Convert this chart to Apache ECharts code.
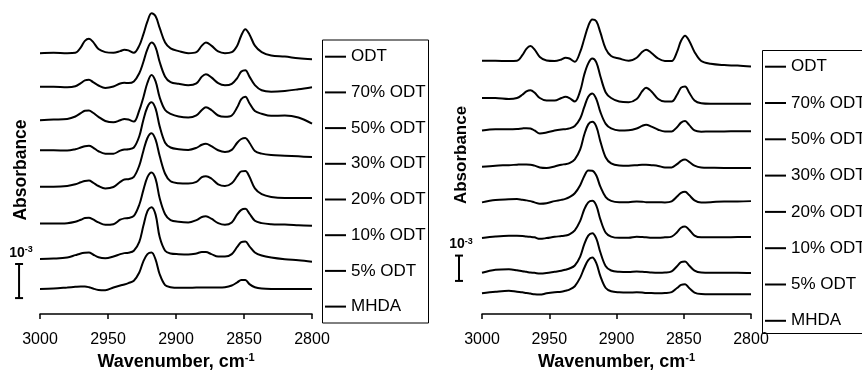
<!DOCTYPE html>
<html>
<head>
<meta charset="utf-8">
<title>IR spectra ODT / MHDA</title>
<script src="https://cdn.jsdelivr.net/npm/echarts@6/dist/echarts.min.js"></script>
<style>
  html, body { margin: 0; padding: 0; background: #fff; }
  #main { width: 862px; height: 376px; }
</style>
</head>
<body>
<div id="main"></div>
<script>
// wavenumber sampling points (cm-1), shared by every trace
var wavenumbers = [3000, 2990, 2980, 2974, 2970, 2967, 2964, 2961, 2957, 2952,
  2946, 2941, 2938, 2935, 2931, 2927, 2924, 2921, 2918, 2915,
  2912, 2908, 2904, 2898, 2891, 2885, 2881, 2878, 2874, 2869,
  2864, 2859, 2855, 2852, 2849, 2846, 2842, 2837, 2830, 2820,
  2810, 2800];

var sampleNames = ['ODT', '70% ODT', '50% ODT', '30% ODT', '20% ODT', '10% ODT', '5% ODT', 'MHDA'];
var xTicks = [3000, 2950, 2900, 2850, 2800];

// left panel, absorbance x10^-3 relative to each trace's baseline
var leftODT   = [0, 0.01, 0, 0.01, 0.17, 0.36, 0.42, 0.33, 0.12, 0.03, 0.01, 0.06, 0.10, 0.08, 0.01, 0.22, 0.55, 0.93, 1.17, 1.08, 0.74, 0.31, 0.14, 0.06, 0, 0.03, 0.22, 0.31, 0.22, 0.05, 0, 0.03, 0.22, 0.52, 0.70, 0.55, 0.22, 0.03, -0.07, -0.10, -0.15, -0.18];
var leftODT70 = [0, 0, -0.01, 0.02, 0.11, 0.19, 0.21, 0.14, 0.04, -0.03, 0.01, 0.10, 0.12, 0.11, 0.16, 0.40, 0.73, 1.11, 1.30, 1.16, 0.73, 0.30, 0.14, 0.09, 0.05, 0.10, 0.30, 0.37, 0.28, 0.11, 0.05, 0.09, 0.26, 0.45, 0.49, 0.30, 0.05, -0.10, -0.14, -0.12, -0.07, -0.01];
var leftODT50 = [0, 0.02, 0.04, 0.11, 0.21, 0.28, 0.29, 0.22, 0.10, -0.02, -0.06, 0, 0.04, 0.02, -0.04, 0.29, 0.67, 1.10, 1.33, 1.14, 0.67, 0.30, 0.19, 0.11, 0.08, 0.14, 0.30, 0.38, 0.30, 0.14, 0.10, 0.14, 0.38, 0.62, 0.69, 0.50, 0.27, 0.19, 0.13, 0.14, 0.08, -0.10];
var leftODT30 = [0, 0, -0.01, 0.03, 0.08, 0.12, 0.13, 0.08, -0.03, -0.10, -0.10, -0.01, 0.02, 0.03, 0.08, 0.41, 0.89, 1.27, 1.41, 1.22, 0.70, 0.22, 0.08, 0.03, 0.01, 0.07, 0.16, 0.19, 0.12, 0, -0.05, 0.01, 0.22, 0.33, 0.36, 0.22, -0.02, -0.10, -0.14, -0.16, -0.18, -0.20];
var leftODT20 = [0, 0, 0.02, 0.07, 0.13, 0.17, 0.18, 0.12, 0.02, -0.05, -0.01, 0.14, 0.21, 0.22, 0.29, 0.62, 1.05, 1.43, 1.57, 1.38, 0.90, 0.38, 0.16, 0.10, 0.09, 0.14, 0.28, 0.31, 0.24, 0.07, 0.02, 0.10, 0.31, 0.45, 0.46, 0.29, -0.05, -0.22, -0.30, -0.33, -0.33, -0.33];
var leftODT10 = [0, 0, 0.01, 0.05, 0.11, 0.16, 0.17, 0.12, 0.03, -0.04, -0.02, 0.11, 0.15, 0.16, 0.22, 0.55, 0.98, 1.36, 1.50, 1.31, 0.74, 0.27, 0.10, 0.05, 0.03, 0.10, 0.19, 0.21, 0.14, 0.01, -0.04, 0.03, 0.27, 0.40, 0.43, 0.29, 0.08, 0.01, -0.02, -0.03, -0.05, -0.07];
var leftODT5  = [0, 0.01, 0.04, 0.11, 0.16, 0.18, 0.19, 0.13, 0.05, 0.02, 0.07, 0.14, 0.17, 0.18, 0.24, 0.50, 0.97, 1.40, 1.52, 1.30, 0.64, 0.24, 0.16, 0.14, 0.13, 0.16, 0.20, 0.20, 0.14, 0.07, 0.07, 0.14, 0.35, 0.49, 0.51, 0.37, 0.19, 0.10, 0.04, -0.01, -0.04, -0.08];
var leftMHDA  = [0, 0.01, 0.04, 0.06, 0.07, 0.07, 0.05, 0.01, -0.03, -0.04, 0.04, 0.10, 0.13, 0.17, 0.24, 0.48, 0.81, 1.02, 1.07, 0.86, 0.43, 0.11, 0.05, 0.03, 0.03, 0.04, 0.04, 0.04, 0.04, 0.04, 0.05, 0.10, 0.19, 0.26, 0.26, 0.14, 0.05, 0.01, 0, 0, 0, 0];
var leftOffsets = [7.73, 6.74, 5.76, 4.88, 3.81, 2.73, 1.69, 0.81];

// right panel, absorbance x10^-3 relative to each trace's baseline
var rightODT   = [0, 0, -0.01, 0, 0.22, 0.47, 0.58, 0.45, 0.15, 0.01, -0.01, 0.05, 0.12, 0.09, -0.04, 0.35, 0.86, 1.37, 1.63, 1.56, 1.12, 0.47, 0.19, 0.09, 0, 0.12, 0.35, 0.44, 0.31, 0.09, -0.01, -0.01, 0.35, 0.79, 0.99, 0.79, 0.35, -0.01, -0.12, -0.17, -0.19, -0.23];
var rightODT70 = [0, 0, -0.04, 0, 0.13, 0.26, 0.31, 0.22, 0, -0.10, -0.10, 0, 0.05, 0, -0.14, 0.28, 0.92, 1.37, 1.56, 1.41, 0.86, 0.22, 0, -0.14, -0.17, -0.04, 0.26, 0.41, 0.26, -0.04, -0.14, -0.14, 0.13, 0.41, 0.46, 0.22, -0.10, -0.21, -0.23, -0.23, -0.23, -0.23];
var rightODT50 = [0, 0.05, 0.05, 0.06, 0.08, 0.09, 0.08, 0, -0.12, -0.08, 0, 0.04, 0.05, 0.08, 0.18, 0.47, 0.92, 1.33, 1.46, 1.24, 0.73, 0.26, 0.08, 0, 0.01, 0.08, 0.18, 0.23, 0.15, 0.03, -0.04, -0.04, 0.13, 0.31, 0.37, 0.22, 0, -0.05, -0.04, -0.04, -0.03, -0.03];
var rightODT30 = [0, 0.04, 0.06, 0.08, 0.09, 0.09, 0.08, 0.04, -0.03, -0.05, 0.01, 0.08, 0.10, 0.14, 0.29, 0.68, 1.26, 1.67, 1.77, 1.58, 1.00, 0.36, 0.13, 0.05, 0.04, 0.06, 0.08, 0.08, 0.06, 0.03, -0.03, -0.03, 0.10, 0.23, 0.28, 0.19, 0.04, -0.03, -0.04, -0.05, -0.05, -0.05];
var rightODT20 = [0, 0.09, 0.12, 0.13, 0.10, 0.08, 0.05, 0, -0.05, -0.03, 0.05, 0.10, 0.14, 0.21, 0.36, 0.68, 1.03, 1.26, 1.25, 1.06, 0.62, 0.21, 0.06, 0.01, 0.01, 0.04, 0.03, 0.01, 0.01, 0.01, 0, 0.04, 0.23, 0.38, 0.42, 0.29, 0.08, 0, 0.01, 0.04, 0.04, 0.05];
var rightODT10 = [0, 0.06, 0.09, 0.09, 0.08, 0.06, 0.05, 0.03, -0.03, 0, 0.05, 0.08, 0.10, 0.15, 0.31, 0.68, 1.13, 1.41, 1.47, 1.28, 0.74, 0.21, 0.06, 0.01, 0.01, 0.05, 0.04, 0.03, 0.01, 0.01, 0.03, 0.06, 0.23, 0.41, 0.46, 0.33, 0.10, 0.03, 0.03, 0.03, 0.04, 0.04];
var rightODT5  = [0, 0.12, 0.14, 0.10, 0.06, 0.04, 0.01, 0, -0.03, -0.01, 0.04, 0.08, 0.12, 0.17, 0.29, 0.64, 1.12, 1.47, 1.56, 1.35, 0.81, 0.26, 0.09, 0.04, 0.03, 0.05, 0.04, 0.03, 0.01, 0, 0.01, 0.06, 0.26, 0.42, 0.45, 0.29, 0.09, 0.01, 0, 0, 0, -0.01];
var rightMHDA  = [0, 0.06, 0.10, 0.06, 0.04, 0.01, -0.01, -0.04, -0.05, 0, 0.04, 0.06, 0.10, 0.15, 0.28, 0.62, 1.00, 1.31, 1.41, 1.19, 0.68, 0.21, 0.08, 0.04, 0.03, 0.04, 0.03, 0.01, 0.01, 0, 0.01, 0.05, 0.21, 0.33, 0.36, 0.21, 0.03, -0.03, -0.04, -0.04, -0.04, -0.04];
var rightOffsets = [10.10, 8.63, 7.35, 5.92, 4.51, 3.10, 1.73, 0.92];

// scale bar: [wavenumber position, bottom, top] in absorbance x10^-3
var leftScaleBar = [3015.4, 0.54, 1.54];
var rightScaleBar = [3017.1, 1.41, 2.41];

var leftSpectra = [leftODT, leftODT70, leftODT50, leftODT30, leftODT20, leftODT10, leftODT5, leftMHDA];
var rightSpectra = [rightODT, rightODT70, rightODT50, rightODT30, rightODT20, rightODT10, rightODT5, rightMHDA];

var FONT = 'Arial, "Liberation Sans", sans-serif';

function buildSeries(spectra, offsets, axisIndex) {
  var list = [];
  for (var i = 0; i < spectra.length; i++) {
    var pts = [];
    for (var k = 0; k < wavenumbers.length; k++)
      pts.push([wavenumbers[k], offsets[i] + spectra[i][k]]);
    list.push({
      name: sampleNames[i],
      type: 'line',
      xAxisIndex: axisIndex,
      yAxisIndex: axisIndex,
      data: pts,
      symbol: 'none',
      smooth: 0.35,
      lineStyle: { color: '#000', width: 2 },
      itemStyle: { color: '#000' },
      silent: true
    });
  }
  return list;
}

// I-shaped 10^-3 bar, drawn in data coordinates
function renderScaleBar(params, api) {
  var x = api.value(0);
  var lo = api.coord([x, api.value(1)]);
  var hi = api.coord([x, api.value(2)]);
  var st = { stroke: '#000', lineWidth: 2 };
  return {
    type: 'group',
    children: [
      { type: 'line', shape: { x1: lo[0], y1: lo[1], x2: hi[0], y2: hi[1] }, style: st },
      { type: 'line', shape: { x1: lo[0] - 4, y1: lo[1], x2: lo[0] + 4, y2: lo[1] }, style: st },
      { type: 'line', shape: { x1: hi[0] - 4, y1: hi[1], x2: hi[0] + 4, y2: hi[1] }, style: st },
      {
        type: 'text', x: hi[0] + 2, y: hi[1] - 11,
        style: {
          text: '{b|10}{s|-3}',
          align: 'center', verticalAlign: 'middle',
          rich: {
            b: { fontSize: 14, fontWeight: 'bold', fontFamily: FONT, fill: '#000', lineHeight: 16 },
            s: { fontSize: 9, fontWeight: 'bold', fontFamily: FONT, fill: '#000', verticalAlign: 'top', lineHeight: 9 }
          }
        }
      }
    ]
  };
}

function makeXAxis(gridIndex) {
  return {
    gridIndex: gridIndex,
    type: 'value',
    min: 2800, max: 3000, interval: 50,
    inverse: true,
    name: '{a|Wavenumber, cm}{s|-1}',
    nameLocation: 'middle',
    nameGap: 32,
    nameTextStyle: {
      rich: {
        a: { fontSize: 18, fontWeight: 'bold', fontFamily: FONT, color: '#000', lineHeight: 20 },
        s: { fontSize: 11, fontWeight: 'bold', fontFamily: FONT, color: '#000', verticalAlign: 'top', lineHeight: 11 }
      }
    },
    axisLine: { lineStyle: { color: '#000', width: 1.5 } },
    axisTick: { length: 5, lineStyle: { color: '#000', width: 1.5 } },
    axisLabel: {
      margin: 17, fontSize: 16, color: '#000', fontFamily: FONT,
      formatter: function (v) { return String(v); }
    },
    splitLine: { show: false }
  };
}

function makeLegend(left, top, gap) {
  return {
    orient: 'vertical',
    left: left, top: top,
    padding: 0,
    icon: 'rect',
    itemWidth: 21, itemHeight: 2,
    itemGap: gap,
    selectedMode: false,
    data: sampleNames,
    itemStyle: { color: '#000' },
    textStyle: { fontSize: 17, color: '#000', fontFamily: FONT, lineHeight: 18 }
  };
}

var myChart = echarts.init(document.getElementById('main'), null, { renderer: 'canvas' });

var option = {
  animation: false,
  backgroundColor: '#fff',
  grid: [
    { left: 40, top: 0, width: 272, height: 322.5 },
    { left: 482, top: 0, width: 269, height: 322.5 }
  ],
  xAxis: [makeXAxis(0), makeXAxis(1)],
  yAxis: [
    { gridIndex: 0, type: 'value', min: 0.07, max: 9.29, show: false },
    { gridIndex: 1, type: 'value', min: 0.1, max: 12.5, show: false }
  ],
  legend: [makeLegend(325, 47.7, 17.7), makeLegend(765, 57.7, 18.3)],
  graphic: [
    { type: 'rect', shape: { x: 322.5, y: 40, width: 106, height: 283 }, style: { fill: 'none', stroke: '#000', lineWidth: 1 } },
    { type: 'rect', shape: { x: 762.5, y: 50.5, width: 150, height: 283 }, style: { fill: 'none', stroke: '#000', lineWidth: 1 } },
    { type: 'text', x: 21, y: 170, rotation: Math.PI / 2,
      style: { text: 'Absorbance', font: 'bold 17.5px ' + FONT, fill: '#000', align: 'center', verticalAlign: 'middle' } },
    { type: 'text', x: 461, y: 155, rotation: Math.PI / 2,
      style: { text: 'Absorbance', font: 'bold 17px ' + FONT, fill: '#000', align: 'center', verticalAlign: 'middle' } }
  ],
  series: buildSeries(leftSpectra, leftOffsets, 0)
    .concat(buildSeries(rightSpectra, rightOffsets, 1))
    .concat([
      { type: 'custom', xAxisIndex: 0, yAxisIndex: 0, data: [leftScaleBar], renderItem: renderScaleBar, silent: true, clip: false },
      { type: 'custom', xAxisIndex: 1, yAxisIndex: 1, data: [rightScaleBar], renderItem: renderScaleBar, silent: true, clip: false }
    ])
};

myChart.setOption(option);
</script>
</body>
</html>
